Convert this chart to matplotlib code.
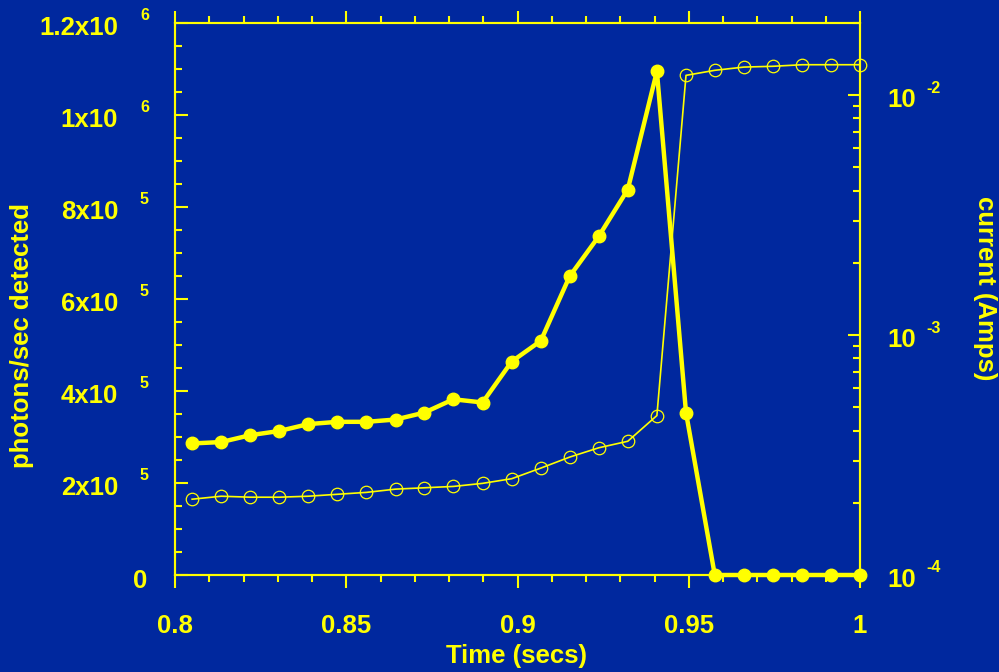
import numpy as np
import matplotlib
matplotlib.use("Agg")
import matplotlib.pyplot as plt
from matplotlib.ticker import MultipleLocator, LogLocator, NullFormatter

# sample times (s)
time_s = [0.8050, 0.8135, 0.8220, 0.8304, 0.8389, 0.8474, 0.8559, 0.8644,
          0.8728, 0.8813, 0.8898, 0.8983, 0.9068, 0.9152, 0.9237, 0.9322,
          0.9407, 0.9492, 0.9576, 0.9661, 0.9746, 0.9831, 0.9915, 1.0000]

# detected photon rate (photons/sec)
photons = [286e3, 289e3, 304e3, 313e3, 328e3, 333e3, 333e3, 338e3,
           353e3, 382e3, 375e3, 464e3, 509e3, 649e3, 736e3, 838e3,
           1095e3, 353e3, 0, 0, 0, 0, 0, 0]

# current (Amps)
current = [2.07e-4, 2.13e-4, 2.11e-4, 2.11e-4, 2.13e-4, 2.17e-4, 2.21e-4, 2.28e-4,
           2.31e-4, 2.34e-4, 2.41e-4, 2.52e-4, 2.79e-4, 3.10e-4, 3.39e-4, 3.61e-4,
           4.62e-4, 1.21e-2, 1.27e-2, 1.31e-2, 1.32e-2, 1.34e-2, 1.34e-2, 1.34e-2]

left_ticks = [0, 2e5, 4e5, 6e5, 8e5, 1e6, 1.2e6]
left_base = ["0", "2x10", "4x10", "6x10", "8x10", "1x10", "1.2x10"]
left_exp = ["", "5", "5", "5", "5", "6", "6"]

right_ticks = [1e-4, 1e-3, 1e-2]
right_exp = ["-4", "-3", "-2"]

BG = "#00289e"
YEL = "#ffff00"
FS = 18.5
FS_EXP = 11.5

plt.rcParams["font.family"] = ["Liberation Sans", "DejaVu Sans"]
plt.rcParams["font.weight"] = "bold"

fig = plt.figure(figsize=(9.99, 6.72), dpi=100, facecolor=BG)
W, H = 999.0, 672.0
ax = fig.add_axes([175 / W, (H - 575) / H, 685 / W, 552 / H])
ax.set_facecolor(BG)
ax2 = ax.twinx()

ax.set_xlim(0.8, 1.0)
ax.set_ylim(0, 1.2e6)
ax2.set_yscale("log")
ax2.set_ylim(1e-4, 2e-2)

for a in (ax, ax2):
    for sp in a.spines.values():
        sp.set_color(YEL)
        sp.set_linewidth(1.5)

# x axis: ticks out, on top and bottom
ax.xaxis.set_major_locator(MultipleLocator(0.05))
ax.xaxis.set_minor_locator(MultipleLocator(0.01))
ax.tick_params(axis="x", which="both", direction="out", top=True, bottom=True,
               colors=YEL, width=1.5, labelsize=FS, pad=19)
ax.tick_params(axis="x", which="major", length=9)
ax.tick_params(axis="x", which="minor", length=5)
ax.set_xticks([0.8, 0.85, 0.9, 0.95, 1.0])
ax.set_xticklabels(["0.8", "0.85", "0.9", "0.95", "1"], fontweight="bold")

# left axis: linear, ticks inward
ax.yaxis.set_major_locator(MultipleLocator(2e5))
ax.yaxis.set_minor_locator(MultipleLocator(5e4))
ax.tick_params(axis="y", which="both", direction="in", colors=YEL, width=1.5,
               labelleft=False)
ax.tick_params(axis="y", which="major", length=9)
ax.tick_params(axis="y", which="minor", length=5)

# right axis: log, ticks inward
ax2.yaxis.set_major_locator(LogLocator(base=10))
ax2.yaxis.set_minor_locator(LogLocator(base=10, subs=np.arange(2, 10)))
ax2.yaxis.set_minor_formatter(NullFormatter())
ax2.tick_params(axis="y", which="both", direction="in", colors=YEL, width=1.5,
                labelright=False)
ax2.tick_params(axis="y", which="major", length=9)
ax2.tick_params(axis="y", which="minor", length=5)

# data
ax.plot(time_s, photons, color=YEL, lw=3.2, marker="o", ms=9,
        mfc=YEL, mec=YEL, clip_on=False, zorder=3)
ax2.plot(time_s, current, color=YEL, lw=1.2, marker="o", ms=9,
         mfc="none", mec=YEL, mew=0.9, clip_on=False, zorder=3)

# tick labels written as base + raised exponent
for v, b, e in zip(left_ticks, left_base, left_exp):
    if e:
        ax.annotate(b, xy=(0, v), xycoords=("axes fraction", "data"),
                    xytext=(-57, -5), textcoords="offset pixels",
                    ha="right", va="center", color=YEL, fontsize=FS,
                    fontweight="bold", annotation_clip=False)
        ax.annotate(e, xy=(0, v), xycoords=("axes fraction", "data"),
                    xytext=(-35, 8), textcoords="offset pixels",
                    ha="left", va="center", color=YEL, fontsize=FS_EXP,
                    fontweight="bold", annotation_clip=False)
    else:
        ax.annotate(b, xy=(0, v), xycoords=("axes fraction", "data"),
                    xytext=(-28, -6), textcoords="offset pixels",
                    ha="right", va="center", color=YEL, fontsize=FS,
                    fontweight="bold", annotation_clip=False)

for v, e in zip(right_ticks, right_exp):
    ax2.annotate("10", xy=(1, v), xycoords=("axes fraction", "data"),
                 xytext=(27, -5), textcoords="offset pixels",
                 ha="left", va="center", color=YEL, fontsize=FS,
                 fontweight="bold", annotation_clip=False)
    ax2.annotate(e, xy=(1, v), xycoords=("axes fraction", "data"),
                 xytext=(66, 7), textcoords="offset pixels",
                 ha="left", va="center", color=YEL, fontsize=FS_EXP,
                 fontweight="bold", annotation_clip=False)

fig.text(22 / W, 1 - 336 / H, "photons/sec detected", rotation=90,
         ha="center", va="center", color=YEL, fontsize=FS, fontweight="bold")
fig.text(985 / W, 1 - 288 / H, "current (Amps)", rotation=-90,
         ha="center", va="center", color=YEL, fontsize=FS, fontweight="bold")
fig.text(517 / W, 1 - 656 / H, "Time (secs)",
         ha="center", va="center", color=YEL, fontsize=FS, fontweight="bold")

fig.savefig("out.png", dpi=100, facecolor=BG)
